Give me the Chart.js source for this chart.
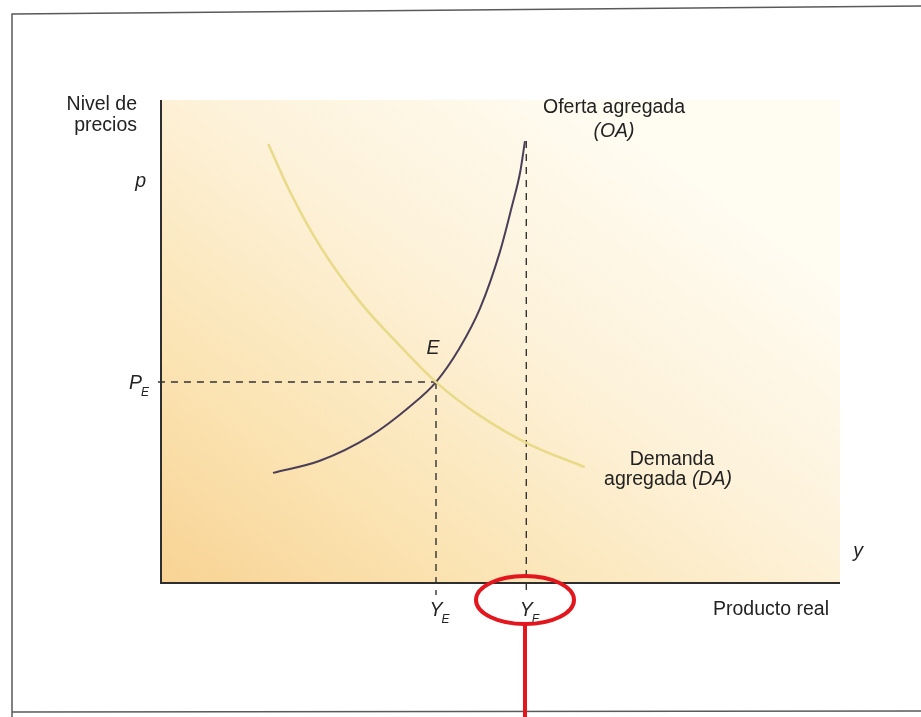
<!DOCTYPE html>
<html>
<head>
<meta charset="utf-8">
<script src="https://cdn.jsdelivr.net/npm/chart.js@4.4.1/dist/chart.umd.min.js"></script>
<style>
  html, body { margin: 0; padding: 0; background: #fff; }
</style>
</head>
<body>
<canvas id="chart" width="921" height="717"></canvas>
<script>
// curves (axis units 0..100)
const demandX = [15.8, 19.0, 23.4, 29.3, 35.2, 40.5, 47.0, 54.4, 62.4];
const demandY = [90.9, 81.0, 69.8, 58.2, 49.1, 41.6, 34.6, 28.6, 24.0];
const supplyX = [16.5, 23.4, 30.8, 36.7, 40.5, 44.0, 47.0, 49.9, 51.7, 52.9, 53.6];
const supplyY = [22.8, 25.3, 30.4, 36.6, 41.6, 48.7, 56.9, 68.5, 78.1, 85.1, 91.5];

// tick marks on the axes
const xTickValues = [40.5, 53.8];
const xTickLabels = ['Y', 'Y'];
const xTickSubs = ['E', 'F'];
const yTickValues = [41.6];
const yTickLabels = ['P'];
const yTickSubs = ['E'];

const toPoints = (xs, ys) => xs.map((x, i) => ({ x: x, y: ys[i] }));

const FONT = '"Liberation Sans", Arial, sans-serif';
const dash = [7, 6];

const paper = {
  id: 'paper',
  beforeDraw(chart) {
    const { ctx, chartArea: a } = chart;
    ctx.save();
    ctx.fillStyle = '#ffffff';
    ctx.fillRect(0, 0, chart.width, chart.height);
    const g = ctx.createLinearGradient(a.left, a.bottom, a.left + 380, a.top - 40);
    g.addColorStop(0, '#f8d394');
    g.addColorStop(0.3, '#fbe4b4');
    g.addColorStop(0.65, '#fdf2da');
    g.addColorStop(1, '#fffcf2');
    ctx.fillStyle = g;
    ctx.fillRect(a.left, a.top, a.right - a.left, a.bottom - a.top);
    ctx.restore();
  }
};

function subText(ctx, main, sub, x, y, align) {
  ctx.font = 'italic 19.5px ' + FONT;
  const w = ctx.measureText(main).width;
  let left = x;
  if (align === 'center') left = x - w / 2;
  if (align === 'right') {
    ctx.font = 'italic 12px ' + FONT;
    const sw = ctx.measureText(sub).width;
    left = x - w - sw;
    ctx.font = 'italic 19.5px ' + FONT;
  }
  ctx.textAlign = 'left';
  ctx.fillText(main, left, y);
  ctx.font = 'italic 12px ' + FONT;
  ctx.fillText(sub, left + w - 1, y + 7);
}

const annotate = {
  id: 'annotate',
  afterDraw(chart) {
    const { ctx, chartArea: a } = chart;
    const xs = chart.scales.x, ys = chart.scales.y;
    ctx.save();

    // page frame
    ctx.strokeStyle = '#5a5a5a';
    ctx.lineWidth = 1.5;
    ctx.beginPath();
    ctx.moveTo(12, 717); ctx.lineTo(12, 14); ctx.lineTo(921, 6);
    ctx.moveTo(12, 712); ctx.lineTo(921, 711);
    ctx.stroke();

    // axes
    ctx.strokeStyle = '#2e2e2e';
    ctx.lineWidth = 2;
    ctx.beginPath();
    ctx.moveTo(a.left, a.top); ctx.lineTo(a.left, a.bottom); ctx.lineTo(a.right, a.bottom);
    ctx.stroke();

    ctx.fillStyle = '#222';
    ctx.textBaseline = 'alphabetic';
    ctx.font = '19.5px ' + FONT;
    ctx.textAlign = 'right';
    ctx.fillText('Nivel de', 137, 110);
    ctx.fillText('precios', 137, 131);
    ctx.font = 'italic 19.5px ' + FONT;
    ctx.fillText('p', 146, 187);

    ctx.textAlign = 'center';
    ctx.font = '19.5px ' + FONT;
    ctx.fillText('Oferta agregada', 614, 113);
    ctx.font = 'italic 19.5px ' + FONT;
    ctx.fillText('(OA)', 614, 137);

    ctx.font = '19.5px ' + FONT;
    ctx.fillText('Demanda', 672, 465);
    const w1 = ctx.measureText('agregada ').width;
    ctx.font = 'italic 19.5px ' + FONT;
    const w2 = ctx.measureText('(DA)').width;
    const l = 668 - (w1 + w2) / 2;
    ctx.textAlign = 'left';
    ctx.font = '19.5px ' + FONT;
    ctx.fillText('agregada ', l, 485);
    ctx.font = 'italic 19.5px ' + FONT;
    ctx.fillText('(DA)', l + w1, 485);

    ctx.textAlign = 'center';
    ctx.fillText('E', 433, 354);
    ctx.fillText('y', 858, 557);
    ctx.font = '19.5px ' + FONT;
    ctx.textAlign = 'left';
    ctx.fillText('Producto real', 713, 615);

    xTickValues.forEach((v, i) => {
      const px = xs.getPixelForValue(v);
      ctx.font = 'italic 19.5px ' + FONT;
      const w = ctx.measureText(xTickLabels[i]).width;
      ctx.textAlign = 'left';
      ctx.fillText(xTickLabels[i], px - w / 2, 616);
      ctx.font = 'italic 12px ' + FONT;
      ctx.fillText(xTickSubs[i], px + w / 2 - 1, 623);
    });
    yTickValues.forEach((v, i) => {
      const py = ys.getPixelForValue(v);
      subText(ctx, yTickLabels[i], yTickSubs[i], 150, py + 7, 'right');
    });

    // red marker round Y_F
    ctx.strokeStyle = '#e3161d';
    ctx.lineWidth = 4;
    ctx.beginPath();
    ctx.ellipse(525, 600, 49, 24, 0, 0, Math.PI * 2);
    ctx.stroke();
    ctx.beginPath();
    ctx.moveTo(525, 624); ctx.lineTo(525, 717);
    ctx.stroke();

    ctx.restore();
  }
};

const ctx = document.getElementById('chart').getContext('2d');

const data = {
  datasets: [
    {
      label: 'Demanda agregada (DA)',
      data: toPoints(demandX, demandY),
      borderColor: '#e9da8a',
      borderWidth: 2.5,
      pointRadius: 0,
      cubicInterpolationMode: 'monotone'
    },
    {
      label: 'Oferta agregada (OA)',
      data: toPoints(supplyX, supplyY),
      borderColor: '#4b3e57',
      borderWidth: 2,
      pointRadius: 0,
      cubicInterpolationMode: 'monotone'
    },
    {
      label: 'P_E',
      data: [{ x: -0.45, y: yTickValues[0] }, { x: xTickValues[0], y: yTickValues[0] }],
      borderColor: '#333',
      borderWidth: 1.4,
      borderDash: dash,
      pointRadius: 0,
      clip: false
    },
    {
      label: 'Y_E',
      data: [{ x: xTickValues[0], y: yTickValues[0] }, { x: xTickValues[0], y: -2.5 }],
      borderColor: '#333',
      borderWidth: 1.4,
      borderDash: dash,
      pointRadius: 0,
      clip: false
    },
    {
      label: 'Y_F',
      data: [{ x: xTickValues[1], y: supplyY[supplyY.length - 1] }, { x: xTickValues[1], y: -2.5 }],
      borderColor: '#333',
      borderWidth: 1.4,
      borderDash: dash,
      pointRadius: 0,
      clip: false
    }
  ]
};

const options = {
  responsive: false,
  animation: false,
  layout: { padding: { left: 161, right: 81, top: 100, bottom: 134 } },
  plugins: { legend: { display: false }, tooltip: { enabled: false } },
  scales: {
    x: { type: 'linear', min: 0, max: 100, display: false },
    y: { type: 'linear', min: 0, max: 100, display: false }
  }
};

const chart = new Chart(ctx, {
  type: 'line',
  data: data,
  options: options,
  plugins: [paper, annotate]
});
</script>
</body>
</html>
